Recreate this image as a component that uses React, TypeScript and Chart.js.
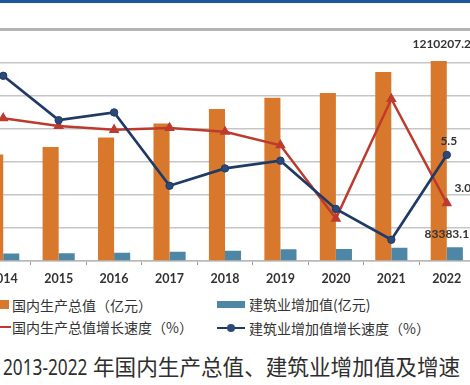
import React, { useEffect, useRef } from 'react';
import { Chart, registerables } from 'chart.js';

Chart.register(...registerables);

const years = ['2014', '2015', '2016', '2017', '2018', '2019', '2020', '2021', '2022'];
const gdp = [643563.1, 688858.2, 746395.1, 832035.9, 919281.1, 986515.2, 1015986.2, 1143669.7, 1210207.2];
const construction = [44880.5, 46627.0, 49702.9, 55689.0, 61808.0, 70904.0, 72996.0, 80138.5, 83383.1];
const gdpGrowth = [7.4, 7.0, 6.8, 6.9, 6.7, 6.0, 2.2, 8.4, 3.0];
const constructionGrowth = [9.6, 7.3, 7.7, 3.9, 4.8, 5.2, 2.7, 1.1, 5.5];

const leftMax = 1400000;
const leftStep = 200000;
const rightMax = 12;

const legendLabels = ['国内生产总值（亿元）', '建筑业增加值(亿元)', '国内生产总值增长速度（%）', '建筑业增加值增长速度（%）'];
const titleYears = '2013-2022';
const titleText = '年国内生产总值、建筑业增加值及增速';

const ORANGE = '#D8782C';
const TEAL = '#4E87A6';
const RED = '#BD3B2E';
const NAVY = '#1F3A66';

const TARGET = { left: -25, right: 473.7, top: 29, bottom: 260 };

const valueLabels = {
  id: 'valueLabels',
  afterDatasetsDraw(chart: any) {
    const ctx = chart.ctx;
    const last = years.length - 1;
    const gdpBar = chart.getDatasetMeta(2).data[last];
    const conBar = chart.getDatasetMeta(3).data[last];
    const conPt = chart.getDatasetMeta(0).data[last];
    const gdpPt = chart.getDatasetMeta(1).data[last];
    ctx.save();
    ctx.font = 'bold 12px Lato, sans-serif';
    ctx.fillStyle = '#333333';
    ctx.textAlign = 'center';
    ctx.textBaseline = 'middle';
    ctx.fillText(gdp[last].toFixed(1), gdpBar.x + 3, gdpBar.y - 17);
    ctx.fillText(construction[last].toFixed(1), conBar.x - 8, conBar.y - 13);
    ctx.fillText(constructionGrowth[last].toFixed(1), conPt.x + 2, conPt.y - 14);
    ctx.fillText(gdpGrowth[last].toFixed(1), gdpPt.x + 16, gdpPt.y - 15);
    ctx.restore();
  },
};

export default function App() {
  const canvasRef = useRef<HTMLCanvasElement>(null);

  useEffect(() => {
    const canvas = canvasRef.current!;
    let w = 540;
    let h = 290;
    canvas.width = w;
    canvas.height = h;
    canvas.style.width = w + 'px';
    canvas.style.height = h + 'px';

    const chart = new Chart(canvas, {
      type: 'bar',
      data: {
        labels: years,
        datasets: [
          {
            type: 'line',
            label: legendLabels[3],
            data: constructionGrowth,
            yAxisID: 'y1',
            borderColor: NAVY,
            backgroundColor: NAVY,
            borderWidth: 2.7,
            pointRadius: 3.7,
            pointStyle: 'circle',
            pointBackgroundColor: '#2B4A78',
            pointBorderColor: NAVY,
            pointBorderWidth: 1,
            tension: 0,
            order: 0,
          },
          {
            type: 'line',
            label: legendLabels[2],
            data: gdpGrowth,
            yAxisID: 'y1',
            borderColor: RED,
            backgroundColor: RED,
            borderWidth: 2.5,
            pointRadius: 3.7,
            pointStyle: 'triangle',
            pointBackgroundColor: RED,
            pointBorderColor: RED,
            tension: 0,
            order: 1,
          },
          {
            type: 'bar',
            label: legendLabels[0],
            data: gdp,
            yAxisID: 'y',
            backgroundColor: ORANGE,
            categoryPercentage: 0.58,
            barPercentage: 1,
            order: 2,
          },
          {
            type: 'bar',
            label: legendLabels[1],
            data: construction,
            yAxisID: 'y',
            backgroundColor: TEAL,
            categoryPercentage: 0.58,
            barPercentage: 1,
            order: 2,
          },
        ],
      } as any,
      options: {
        responsive: false,
        maintainAspectRatio: false,
        animation: false,
        devicePixelRatio: 1,
        layout: { padding: 0 },
        plugins: {
          legend: { display: false },
          tooltip: { enabled: false },
          title: { display: false },
        },
        scales: {
          x: {
            grid: {
              display: true,
              drawOnChartArea: false,
              drawTicks: true,
              tickLength: 4,
              offset: true,
              color: '#9a9a9a',
              lineWidth: 1,
            },
            border: { display: true, color: '#b8b8b8', width: 1.5 },
            ticks: {
              color: '#333333',
              font: { family: 'Lato, sans-serif', size: 12.5, weight: 'bold' },
              padding: 6,
              maxRotation: 0,
            },
          },
          y: {
            position: 'left',
            min: 0,
            max: leftMax,
            ticks: { display: false, stepSize: leftStep },
            grid: {
              drawTicks: false,
              color: (c: any) => (c.tick && c.tick.value === leftMax ? '#b4b4b4' : '#c6c6c6'),
              lineWidth: (c: any) => (c.tick && c.tick.value === leftMax ? 3 : 1.5),
            },
            border: { display: false },
          },
          y1: {
            position: 'right',
            min: 0,
            max: rightMax,
            ticks: { display: false },
            grid: { display: false, drawTicks: false },
            border: { display: false },
          },
        },
      } as any,
      plugins: [valueLabels],
    });

    for (let i = 0; i < 3; i++) {
      const a = chart.chartArea;
      const dw = TARGET.right - TARGET.left - (a.right - a.left);
      const dh = TARGET.bottom - TARGET.top - (a.bottom - a.top);
      if (Math.abs(dw) < 0.5 && Math.abs(dh) < 0.5) break;
      w = Math.round(w + dw);
      h = Math.round(h + dh);
      chart.resize(w, h);
    }
    const a = chart.chartArea;
    canvas.style.left = TARGET.left - a.left + 'px';
    canvas.style.top = TARGET.top - a.top + 'px';

    return () => chart.destroy();
  }, []);

  const textStyle: React.CSSProperties = {
    position: 'absolute',
    fontFamily: '"Noto Sans CJK SC", sans-serif',
    fontSize: 14,
    color: '#333333',
    lineHeight: '20px',
    height: 20,
    whiteSpace: 'nowrap',
  };

  return (
    <div
      style={{
        position: 'fixed',
        left: 0,
        top: 0,
        width: 470,
        height: 385,
        overflow: 'hidden',
        background: '#ffffff',
      }}
    >
      <div style={{ position: 'absolute', left: 0, top: 0, width: 470, height: 3, background: '#1B559B' }} />
      <canvas ref={canvasRef} style={{ position: 'absolute', left: 0, top: 0 }} />

      <div style={{ position: 'absolute', left: -1, top: 300, width: 10, height: 9, background: ORANGE }} />
      <div style={{ ...textStyle, left: 12, top: 295 }}>{legendLabels[0]}</div>

      <div style={{ position: 'absolute', left: 217, top: 301, width: 28, height: 7, background: TEAL }} />
      <div style={{ ...textStyle, left: 249, top: 294 }}>{legendLabels[1]}</div>

      <div style={{ position: 'absolute', left: -1, top: 325.5, width: 12, height: 2.5, background: RED }} />
      <div style={{ ...textStyle, left: 12, top: 317 }}>{legendLabels[2]}</div>

      <div style={{ position: 'absolute', left: 217, top: 326.5, width: 28, height: 2.5, background: NAVY }} />
      <div
        style={{
          position: 'absolute',
          left: 227,
          top: 324,
          width: 8,
          height: 8,
          borderRadius: '50%',
          background: '#2B4A78',
        }}
      />
      <div style={{ ...textStyle, left: 249, top: 318 }}>{legendLabels[3]}</div>

      <div
        style={{
          position: 'absolute',
          left: 3,
          top: 353,
          height: 26,
          fontFamily: '"Noto Sans CJK SC", sans-serif',
          fontSize: 21.6,
          lineHeight: '26px',
          color: '#2e2e2e',
          whiteSpace: 'nowrap',
        }}
      >
        <span style={{ display: 'inline-block', width: 84, verticalAlign: 'top' }}>
          <span
            style={{
              display: 'inline-block',
              fontFamily: '"Noto Sans", "DejaVu Sans", sans-serif',
              fontSize: 21,
              transform: 'scaleX(0.82)',
              transformOrigin: 'left center',
            }}
          >
            {titleYears}
          </span>
        </span>
        <span style={{ display: 'inline-block', marginLeft: 6, verticalAlign: 'top' }}>{titleText}</span>
      </div>
    </div>
  );
}
